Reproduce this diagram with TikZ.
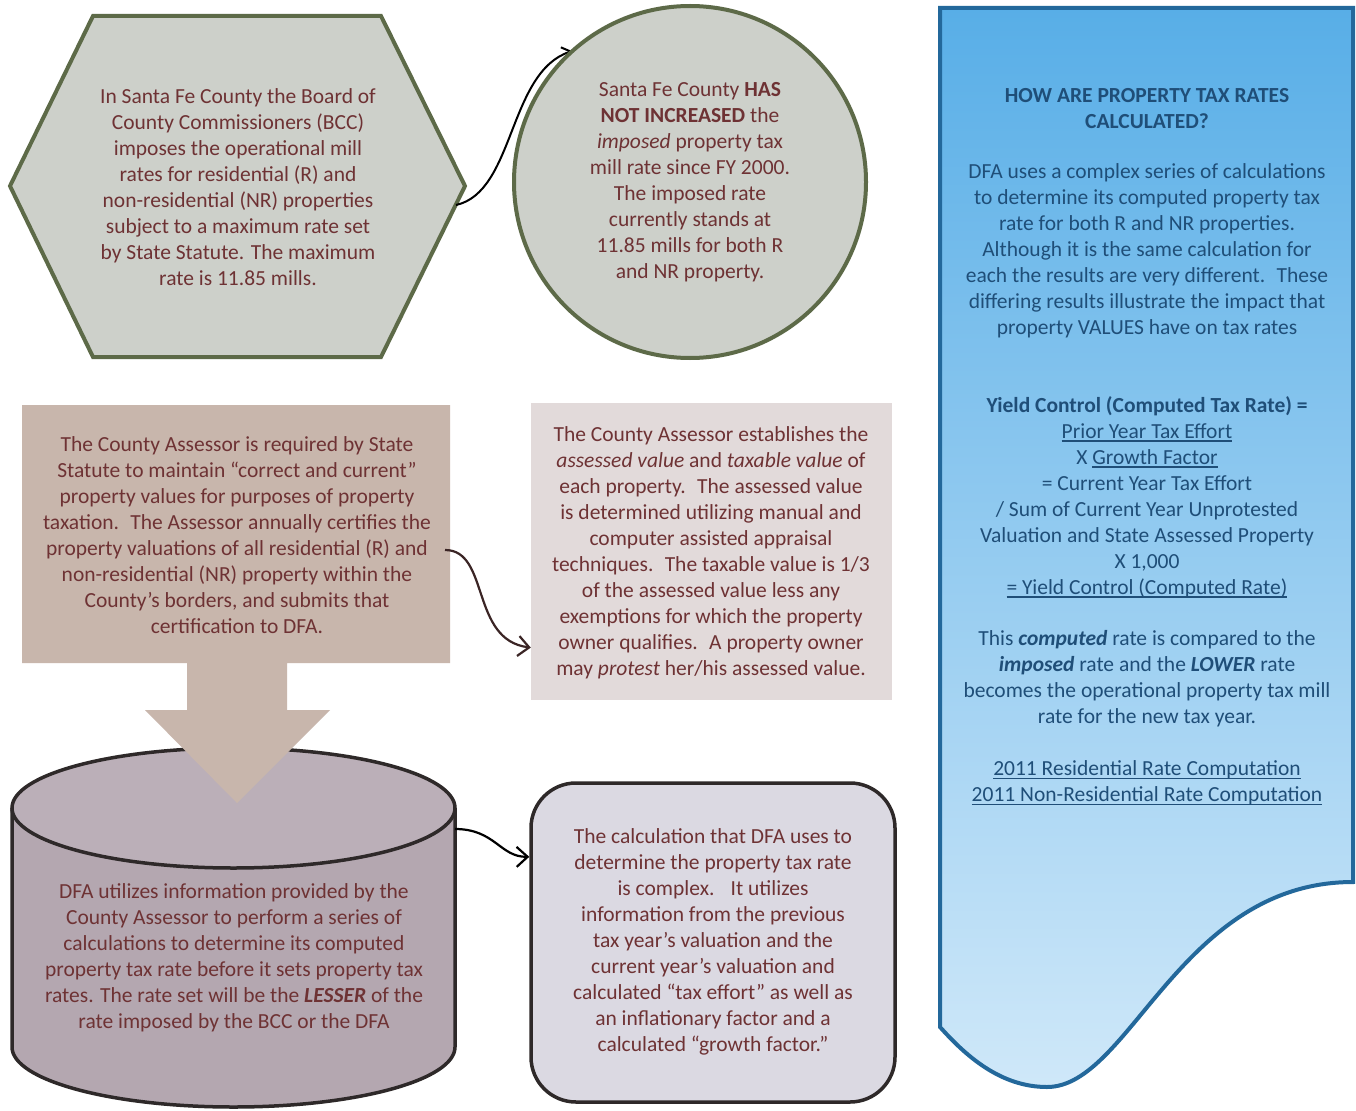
\documentclass[tikz,border=0pt]{standalone}
\usepackage{fontspec}
\setmainfont{Carlito}
\usetikzlibrary{arrows.meta}
\newcommand{\myul}[1]{\leavevmode\setbox0\hbox{#1}\rlap{\rule[-3.5pt]{\wd0}{1.3pt}}\box0}
\definecolor{hexfill}{HTML}{CDD0CA}
\definecolor{olive}{HTML}{5D6A48}
\definecolor{maroon}{HTML}{6E3234}
\definecolor{tanbox}{HTML}{C8B6AC}
\definecolor{pinkgray}{HTML}{E2DADA}
\definecolor{mauve}{HTML}{B4A7B0}
\definecolor{mauvetop}{HTML}{BBAFB8}
\definecolor{darkline}{HTML}{2E2929}
\definecolor{lavender}{HTML}{DBD9E2}
\definecolor{bluetop}{HTML}{58AEE7}
\definecolor{bluebot}{HTML}{CFE8F9}
\definecolor{blueline}{HTML}{23689B}
\definecolor{bluetext}{HTML}{1F4E78}
\definecolor{connbrown}{HTML}{3B2525}
\tikzset{
  body/.style={font=\fontsize{21.5}{26}\selectfont, align=center, text=maroon, inner sep=0pt},
  bluebody/.style={font=\fontsize{21.5}{26}\selectfont, align=center, text=bluetext, inner sep=0pt},
  conn/.style={line width=2.2pt, -{Straight Barb[length=11pt,width=20pt]}},
}
\begin{document}
\begin{tikzpicture}[x=1pt,y=-1pt]
\fill[white] (0,0) rectangle (1356,1110);
\useasboundingbox (0,0) rectangle (1356,1110);

% ---------- hexagon ----------
\draw[olive, line width=4pt, fill=hexfill, line join=miter]
  (93,16) -- (381,16) -- (465,186) -- (381,357) -- (93,357) -- (10,186) -- cycle;
\coordinate (hexout) at (456,205);
\node[body] (hextext) at (238,187) {In Santa Fe County the Board of\\County Commissioners (BCC)\\imposes the operational mill\\rates for residential (R) and\\non-residential (NR) properties\\subject to a maximum rate set\\by State Statute. The maximum\\rate is 11.85 mills.};

% ---------- circle ----------
\node[circle, minimum size=352pt, inner sep=0pt] (circ) at (690,182) {};
\draw[line width=2pt, -{Straight Barb[length=8pt,width=14pt]}] (hexout) .. controls (515,192) and (508,72) .. (circ.132);
\draw[olive, line width=4pt, fill=hexfill] (circ.center) circle[radius=176pt];
\node[body] (circtext) at (690,182) {Santa Fe County \textbf{HAS}\\\textbf{NOT INCREASED} the\\\textit{imposed} property tax\\mill rate since FY 2000.\\The imposed rate\\currently stands at\\11.85 mills for both R\\and NR property.};

% ---------- cylinder ----------
\fill[mauve] (12,808) rectangle (455,1047);
\fill[mauve] (233.5,1047) ellipse[x radius=221.5pt, y radius=60pt];
\draw[darkline, line width=3.5pt] (12,808) -- (12,1047) arc[start angle=180, end angle=360, x radius=221.5pt, y radius=60pt] -- (455,808);
\draw[darkline, line width=3.5pt, fill=mauvetop] (233.5,808) ellipse[x radius=221.5pt, y radius=60pt];
\coordinate (cylR) at (455,829);
\node[body] (cyltext) at (234,958) {DFA utilizes information provided by the\\County Assessor to perform a series of\\calculations to determine its computed\\property tax rate before it sets property tax\\rates. The rate set will be the \textbf{\textit{LESSER}} of the\\rate imposed by the BCC or the DFA};

% ---------- assessor callout with down arrow ----------
\fill[tanbox] (22,405) -- (450,405) -- (450,663) -- (287,663) -- (287,710) -- (330,710) -- (237,803) -- (145,710) -- (187,710) -- (187,663) -- (22,663) -- cycle;
\coordinate (tanout) at (445,550);
\node[body] (tantext) at (237,535) {The County Assessor is required by State\\Statute to maintain “correct and current”\\property values for purposes of property\\taxation.~ The Assessor annually certifies the\\property valuations of all residential (R) and\\non-residential (NR) property within the\\County’s borders, and submits that\\certification to DFA.};

% ---------- box 2 ----------
\node[fill=pinkgray, minimum width=361pt, minimum height=297pt, inner sep=0pt] (box2) at (711.5,551.5) {};
\node[body] (box2text) at (711,553) {The County Assessor establishes the\\\textit{assessed value} and \textit{taxable value} of\\each property.~ The assessed value\\is determined utilizing manual and\\computer assisted appraisal\\techniques.~ The taxable value is 1/3\\of the assessed value less any\\exemptions for which the property\\owner qualifies.~ A property owner\\may \textit{protest} her/his assessed value.};
\draw[conn, connbrown] (tanout) .. controls (490,550) and (470,640) .. (box2.208);

% ---------- box 3 ----------
\node[draw=darkline, line width=3.5pt, fill=lavender, rounded corners=45pt, minimum width=364pt, minimum height=319pt, inner sep=0pt] (box3) at (713,942.5) {};
\node[body] (box3text) at (713,942) {The calculation that DFA uses to\\determine the property tax rate\\is complex.~~ It utilizes\\information from the previous\\tax year’s valuation and the\\current year’s valuation and\\calculated “tax effort” as well as\\an inflationary factor and a\\calculated “growth factor.”};
\draw[conn, black] (cylR) .. controls (495,829) and (500,857) .. (box3.155);

% ---------- blue panel ----------
\draw[blueline, line width=4pt, top color=bluetop, bottom color=bluebot]
  (940,8) -- (1353,8) -- (1353,882) .. controls (1180,882) and (1130,1087) .. (1047,1087)
  .. controls (1000,1087) and (965,1055) .. (940,1027) -- cycle;
\node[bluebody, font=\fontsize{21.5}{26}\selectfont\bfseries] (bt1) at (1147,109) {HOW ARE PROPERTY TAX RATES\\CALCULATED?};
\node[bluebody] (bt2) at (1147,251) {DFA uses a complex series of calculations\\to determine its computed property tax\\rate for both R and NR properties.\\Although it is the same calculation for\\each the results are very different.~ These\\differing results illustrate the impact that\\property VALUES have on tax rates};
\node[bluebody] (bt3) at (1147,497) {\textbf{Yield Control (Computed Tax Rate) =}\\\myul{Prior Year Tax Effort}\\X \myul{Growth Factor}\\= Current Year Tax Effort\\/ Sum of Current Year Unprotested\\Valuation and State Assessed Property\\X 1,000\\\myul{= Yield Control (Computed Rate)}};
\node[bluebody] (bt4) at (1147,679) {This \textbf{\textit{computed}} rate is compared to the\\\textbf{\textit{imposed}} rate and the \textbf{\textit{LOWER}} rate\\becomes the operational property tax mill\\rate for the new tax year.};
\node[bluebody] (bt5) at (1147,783) {\myul{2011 Residential Rate Computation}\\\myul{2011 Non-Residential Rate Computation}};
\end{tikzpicture}
\end{document}
